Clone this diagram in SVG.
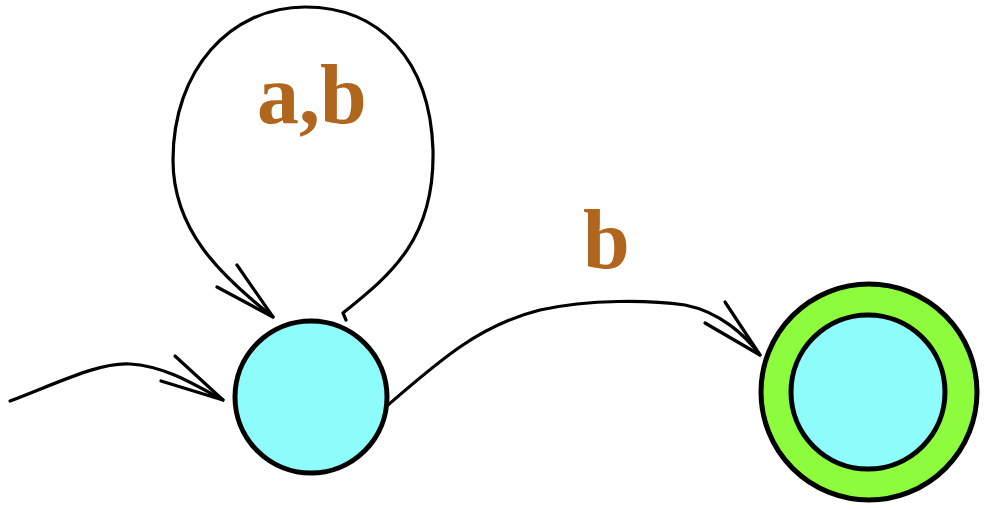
<svg xmlns="http://www.w3.org/2000/svg" width="990" height="510" viewBox="0 0 990 510">
<style>
.edge{fill:none;stroke:#000;stroke-width:3.2;stroke-linecap:round;stroke-linejoin:round}
.st{stroke:#000;stroke-width:5}
.cy{fill:#8ffcfc}
.gr{fill:#8cfc3c}
.lbl{font-family:"Liberation Serif",serif;font-weight:bold;font-size:84px;fill:#b0661c}
</style>
<rect width="990" height="510" fill="#fff"/>
<g id="connectors">
<g id="init">
<path class="edge" d="M10,401 C60,382 100,362 130,364 C165,366 195,385 223,400"/>
<path class="edge" d="M175,356 L223,400 L161,381"/>
</g>
<g id="loop">
<path class="edge" d="M346,320 L343,313 C390,275 435,240 433,150 C430,60 380,7 305,7 C230,7 173,70 173,160 C173,230 220,275 273,317"/>
<path class="edge" d="M237,265 L273,317 L217,287"/>
<text class="lbl" x="257" y="123">a,b</text>
</g>
<g id="edge-b">
<path class="edge" d="M388,405 C440,360 480,325 540,310 C590,299 650,300 685,305 C720,312 745,335 760,355"/>
<path class="edge" d="M725,302 L760,355 L705,323"/>
<text class="lbl" x="583" y="268">b</text>
</g>
</g>
<g id="q0">
<circle class="st cy" cx="311" cy="397" r="76"/>
</g>
<g id="q1">
<circle class="st gr" cx="869" cy="392" r="108"/>
<circle class="st cy" cx="868" cy="392" r="77"/>
</g>
</svg>
